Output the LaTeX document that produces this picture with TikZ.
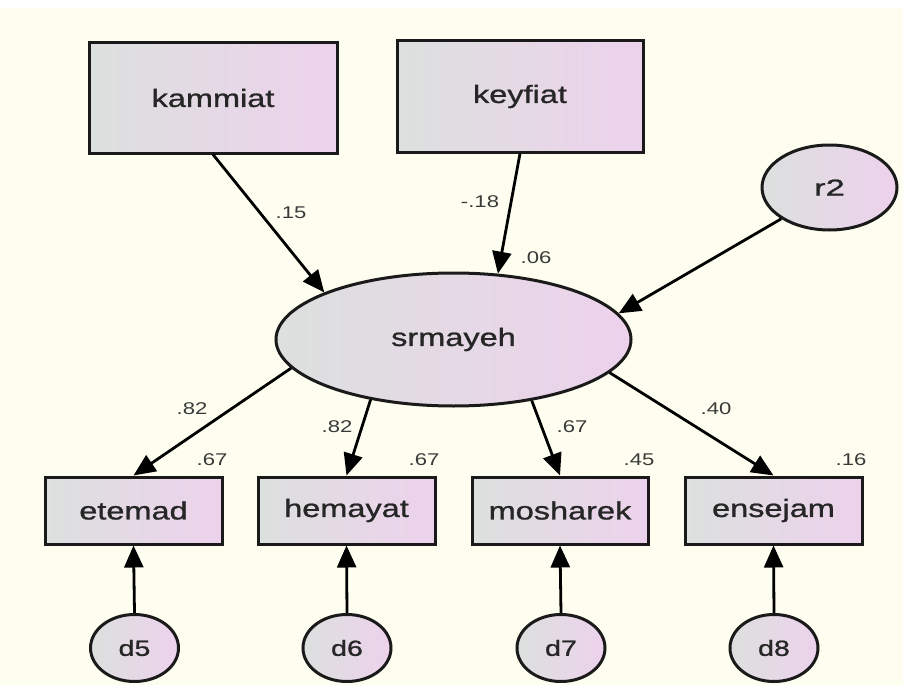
\documentclass[tikz,border=0pt]{standalone}
\usepackage{fontspec}
\usepackage{graphicx}
\setmainfont{Liberation Sans}
\newfontfamily\nodefont[FakeBold=0.9]{Liberation Sans}
\usetikzlibrary{arrows.meta,shapes.geometric}
\definecolor{bgcream}{HTML}{FEFEF0}
\definecolor{gradL}{HTML}{DCE0DE}
\definecolor{gradR}{HTML}{EDD2EC}
\definecolor{edgeC}{HTML}{1A1A1A}
\definecolor{lblC}{HTML}{3A3A3A}
\newcommand\hstr[2]{\scalebox{#1}[1]{#2}}
\tikzset{
  grad/.style={left color=gradL, right color=gradR, draw=edgeC, line width=3pt},
  obsbox/.style={grad, rectangle, inner sep=0pt, text=black!85,
    font=\nodefont\fontsize{25}{30}\selectfont},
  latent/.style={grad, ellipse, inner sep=0pt, text=black!85},
  lbl/.style={text=lblC, inner sep=0pt, font=\fontsize{17}{20}\selectfont},
  arr/.style={draw=black, line width=2.8pt, -{Triangle[length=22pt,width=19pt]}},
}
\begin{document}
\begin{tikzpicture}[x=1pt,y=-1pt]
\useasboundingbox (0,0) rectangle (903,685);
\fill[white] (0,0) rectangle (903,685);
\fill[bgcream] (0,8) rectangle (903,685);

% exogenous boxes
\node[obsbox, minimum width=248pt, minimum height=110pt] (kammiat) at (213,98) {\hstr{1.3}{kammiat}};
\node[obsbox, minimum width=246pt, minimum height=111pt] (keyfiat) at (520,96.5) {\hstr{1.3}{keyfiat}};

% latent
\node[latent, minimum width=355pt, minimum height=133pt, font=\nodefont\fontsize{25}{30}\selectfont] (srmayeh) at (453.5,339.5) {\hstr{1.3}{srmayeh}};
\node[latent, minimum width=135pt, minimum height=85pt, font=\nodefont\fontsize{23}{27}\selectfont] (r2) at (829.5,187.5) {\hstr{1.5}{r2}};

% indicators
\node[obsbox, minimum width=177pt, minimum height=67pt] (etemad) at (133.5,510.5) {\hstr{1.3}{etemad}};
\node[obsbox, minimum width=177pt, minimum height=67pt] (hemayat) at (346.5,510.5) {\hstr{1.3}{hemayat}};
\node[obsbox, minimum width=176pt, minimum height=67pt] (mosharek) at (560,510.5) {\hstr{1.3}{mosharek}};
\node[obsbox, minimum width=177pt, minimum height=67pt] (ensejam) at (773.5,510.5) {\hstr{1.3}{ensejam}};

% errors
\foreach \n/\x in {d5/134.5,d6/347,d7/561,d8/774}{
  \node[latent, minimum width=88pt, minimum height=67pt, font=\nodefont\fontsize{22}{26}\selectfont] (\n) at (\x,648) {\hstr{1.3}{\n}};
}

% structural paths
\draw[arr] (kammiat.south) -- (srmayeh.160.5);
\draw[arr] (keyfiat.south) -- (srmayeh.56.8);
\draw[arr] (r2.213.6) -- (srmayeh.9.5);

% loadings
\draw[arr] (srmayeh.190) -- (etemad.north);
\draw[arr] (srmayeh.216.9) -- (hemayat.north);
\draw[arr] (srmayeh.322.7) -- (mosharek.north);
\draw[arr] (srmayeh.348.8) -- (ensejam.north);

% error paths
\draw[arr] (d5.north) -- (etemad.south);
\draw[arr] (d6.north) -- (hemayat.south);
\draw[arr] (d7.north) -- (mosharek.south);
\draw[arr] (d8.north) -- (ensejam.south);

% labels
\node[lbl] (l15) at (291,213) {\hstr{1.3}{.15}};
\node[lbl] (l18) at (480,202) {\hstr{1.3}{-.18}};
\node[lbl] (l06) at (536,258) {\hstr{1.3}{.06}};
\node[lbl] (l82a) at (192,409) {\hstr{1.3}{.82}};
\node[lbl] (l67a) at (212,460) {\hstr{1.3}{.67}};
\node[lbl] (l82b) at (337,427) {\hstr{1.3}{.82}};
\node[lbl] (l67b) at (424,460) {\hstr{1.3}{.67}};
\node[lbl] (l67c) at (572,427) {\hstr{1.3}{.67}};
\node[lbl] (l45) at (639,460) {\hstr{1.3}{.45}};
\node[lbl] (l40) at (716,409) {\hstr{1.3}{.40}};
\node[lbl] (l16) at (851,460) {\hstr{1.3}{.16}};
\end{tikzpicture}
\end{document}
